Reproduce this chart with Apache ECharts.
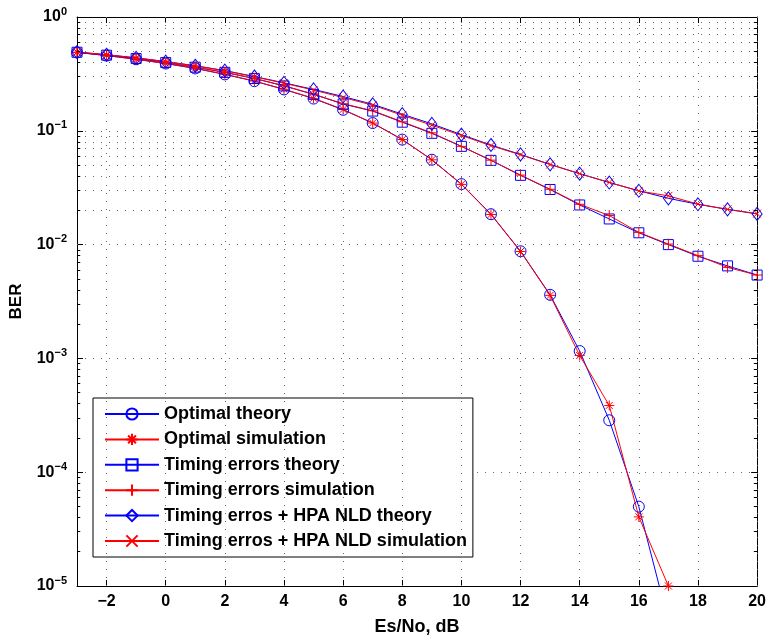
<!DOCTYPE html>
<html>
<head>
<meta charset="utf-8">
<script src="https://cdn.jsdelivr.net/npm/echarts@6/dist/echarts.min.js"></script>
<style>html,body{margin:0;padding:0;background:#fff;}#c{width:769px;height:641px;}</style>
</head>
<body>
<div id="c"></div>
<script>
// ---- data ----
const snr = [-3,-2,-1,0,1,2,3,4,5,6,7,8,9,10,11,12,13,14,15,16,17,18,19,20];
const optTheory = [0.488,0.458,0.425,0.390,0.353,0.313,0.273,0.231,0.192,0.153,0.117,0.0837,0.0557,0.0340,0.0185,0.00874,0.00362,0.00116,0.000286,0.0000498,0.0000049,null,null,null];
const optSim = [0.489,0.459,0.426,0.391,0.354,0.314,0.274,0.232,0.193,0.154,0.117,0.0838,0.0556,0.0338,0.0184,0.0087,0.00358,0.00106,0.000386,0.0000405,0.00001,null,null,null];
const timingTheory = [0.490,0.462,0.432,0.398,0.362,0.326,0.288,0.248,0.209,0.172,0.149,0.119,0.095,0.073,0.055,0.0406,0.0305,0.0223,0.0168,0.0127,0.0100,0.0079,0.0065,0.0054];
const timingSim = [0.490,0.463,0.433,0.399,0.363,0.327,0.289,0.249,0.210,0.173,0.150,0.120,0.096,0.073,0.0552,0.0408,0.0306,0.0226,0.0180,0.0128,0.0101,0.0080,0.0063,0.0054];
const hpaTheory = [0.492,0.466,0.438,0.406,0.373,0.338,0.300,0.264,0.231,0.200,0.171,0.140,0.115,0.0925,0.075,0.062,0.0507,0.042,0.0351,0.0297,0.0255,0.0226,0.0204,0.0186];
const hpaSim = [0.492,0.466,0.437,0.405,0.372,0.337,0.298,0.262,0.228,0.196,0.168,0.137,0.112,0.091,0.074,0.0615,0.0505,0.042,0.0352,0.0296,0.0268,0.0227,0.0204,0.0187];
const seriesNames = ['Optimal theory','Optimal simulation','Timing errors theory','Timing errors simulation','Timing erros + HPA NLD theory','Timing erros + HPA NLD simulation'];
const xTicks = [-2,0,2,4,6,8,10,12,14,16,18,20];
const xMin = -3, xMax = 20, yMin = 1e-5, yMax = 1;
const xTitle = 'Es/No, dB', yTitle = 'BER';

// ---- helpers ----
const FONT = 'Liberation Sans, Arial, Helvetica, sans-serif';
function pairs(vals){ const out=[]; for(let i=0;i<snr.length;i++){ if(vals[i]!=null) out.push([snr[i], vals[i]]); } return out; }
const BLUE = '#0000ff', RED = '#ff0000';
const STAR = 'path://M5,0L5,10M0,5L10,5M1.5,1.5L8.5,8.5M8.5,1.5L1.5,8.5';
const PLUS = 'path://M5,0L5,10M0,5L10,5';
const XMARK = 'path://M0,0L10,10M10,0L0,10';

function mkSeries(name, vals, color, symbol, size){
  return {
    name, type:'line', data: pairs(vals), xAxisIndex:0, yAxisIndex:0,
    symbol, symbolSize:size, showAllSymbol:true, clip:true, z:3,
    lineStyle:{color, width:1},
    itemStyle:{color:'rgba(0,0,0,0)', borderColor:color, borderWidth:1},
    emphasis:{disabled:true}, animation:false
  };
}

// grid lines & minor ticks (via the axes' own scales)
const gridStyle = {color:'#666', width:1, type:[1,7]};
const gridLines = [];
xTicks.forEach(v => gridLines.push({xAxis:v}));
const minorVals = [];
for (let e=-5; e<0; e++) for (let k=2; k<=9; k++) minorVals.push(k*Math.pow(10,e));
minorVals.forEach(v => gridLines.push({yAxis:v}));
const tickSegs = [];
minorVals.forEach(v => {
  tickSegs.push([{coord:[xMin, v]},{coord:[xMin+0.11, v]}]);
  tickSegs.push([{coord:[xMax, v]},{coord:[xMax-0.11, v]}]);
});

const sup = n => (n<0 ? '\u2212'+(-n) : ''+n);

const option = {
  backgroundColor:'#fff',
  animation:false,
  textStyle:{fontFamily:FONT},
  grid:{left:73, top:17, right:9, bottom:50, containLabel:false},
  legend:{
    data: seriesNames, orient:'vertical', left:93, top:398,
    itemWidth:54, itemHeight:14, itemGap:5.4,
    padding:[6,6,6,11], backgroundColor:'#fff', borderColor:'#000', borderWidth:1, borderRadius:0,
    textStyle:{fontFamily:FONT, fontSize:18, fontWeight:'bold', color:'#000', lineHeight:20, padding:[0,0,0,0]},
    selectedMode:false
  },
  xAxis:[{
    type:'value', min:xMin, max:xMax, position:'bottom',
    name:xTitle, nameLocation:'middle', nameGap:32,
    nameTextStyle:{fontFamily:FONT, fontSize:18, fontWeight:'bold', color:'#000'},
    axisLine:{show:true, onZero:false, lineStyle:{color:'#000', width:1}},
    axisTick:{show:true, inside:true, length:6, customValues:xTicks, lineStyle:{color:'#000'}},
    axisLabel:{show:true, customValues:xTicks, margin:8, fontFamily:FONT, fontSize:16, fontWeight:'bold', color:'#000',
      formatter: v => (v<0 ? '\u2212'+(-v) : ''+v)},
    splitLine:{show:false}
  },{
    type:'value', min:xMin, max:xMax, position:'top',
    axisLine:{show:true, onZero:false, lineStyle:{color:'#000', width:1}},
    axisTick:{show:true, inside:true, length:6, customValues:xTicks, lineStyle:{color:'#000'}},
    axisLabel:{show:false}, splitLine:{show:false}
  }],
  yAxis:[{
    type:'log', logBase:10, min:yMin, max:yMax, position:'left',
    name:yTitle, nameLocation:'middle', nameGap:52, nameRotate:90,
    nameTextStyle:{fontFamily:FONT, fontSize:17, fontWeight:'bold', color:'#000'},
    axisLine:{show:true, onZero:false, lineStyle:{color:'#000', width:1}},
    axisTick:{show:true, inside:true, length:6, lineStyle:{color:'#000'}},
    axisLabel:{show:true, margin:10, color:'#000',
      formatter: v => '{b|10}{s|' + sup(Math.round(Math.log10(v))) + '}',
      rich:{
        b:{fontFamily:FONT, fontSize:16, fontWeight:'bold', color:'#000', lineHeight:22},
        s:{fontFamily:FONT, fontSize:11, fontWeight:'bold', color:'#000', lineHeight:10, verticalAlign:'top'}
      }},
    splitLine:{show:true, lineStyle:gridStyle}
  },{
    type:'log', logBase:10, min:yMin, max:yMax, position:'right',
    axisLine:{show:true, onZero:false, lineStyle:{color:'#000', width:1}},
    axisTick:{show:true, inside:true, length:6, lineStyle:{color:'#000'}},
    axisLabel:{show:false}, splitLine:{show:false}
  }],
  series:[
    {
      name:'_grid', type:'line', data:[], xAxisIndex:0, yAxisIndex:0, z:1, silent:true, animation:false,
      markLine:{silent:true, symbol:['none','none'], label:{show:false}, animation:false,
        lineStyle:gridStyle, emphasis:{disabled:true}, data:gridLines}
    },
    {
      name:'_ticks', type:'line', data:[], xAxisIndex:0, yAxisIndex:0, z:4, silent:true, animation:false,
      markLine:{silent:true, symbol:['none','none'], label:{show:false}, animation:false,
        lineStyle:{color:'#000', width:1, type:'solid'}, emphasis:{disabled:true}, data:tickSegs}
    },
    mkSeries(seriesNames[0], optTheory, BLUE, 'circle', 11),
    mkSeries(seriesNames[1], optSim, RED, STAR, 10),
    mkSeries(seriesNames[2], timingTheory, BLUE, 'rect', 10),
    mkSeries(seriesNames[3], timingSim, RED, PLUS, 11),
    mkSeries(seriesNames[4], hpaTheory, BLUE, 'diamond', [10,13]),
    mkSeries(seriesNames[5], hpaSim, RED, XMARK, 8)
  ]
};
const chart = echarts.init(document.getElementById('c'), null, {renderer:'canvas'});
chart.setOption(option);
</script>
</body>
</html>
